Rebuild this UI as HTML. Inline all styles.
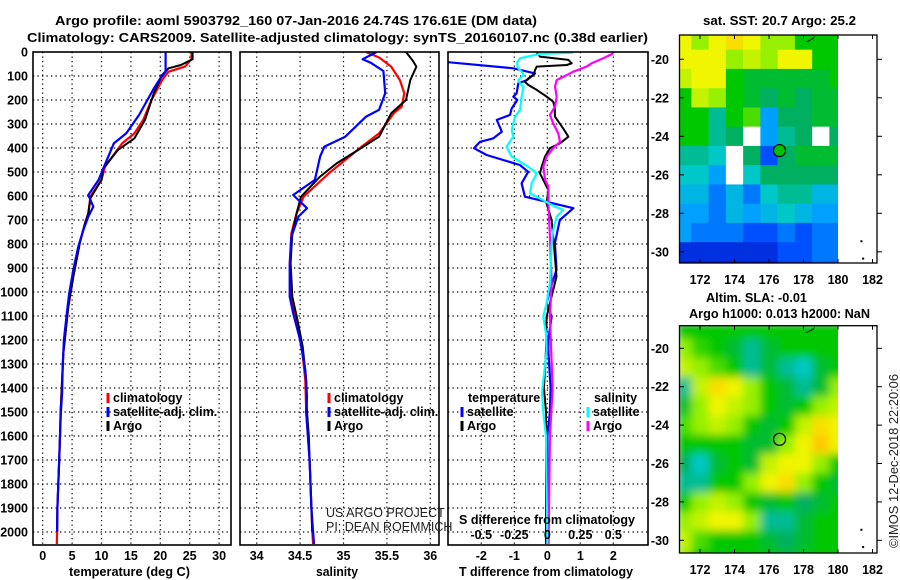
<!DOCTYPE html>
<html><head><meta charset="utf-8"><title>Argo profile</title>
<style>
html,body{margin:0;padding:0;background:#fff;}
svg{display:block;font-family:"Liberation Sans",sans-serif;}
.b{font-weight:bold;font-size:12.5px;fill:#000;}
</style></head>
<body>
<svg id="chart" width="900" height="580" viewBox="0 0 900 580" xmlns="http://www.w3.org/2000/svg">
<defs>
<clipPath id="c1"><rect x="33" y="52" width="198" height="493"/></clipPath>
<clipPath id="c2"><rect x="240" y="52" width="199" height="493"/></clipPath>
<clipPath id="c3"><rect x="448" y="52" width="200" height="493"/></clipPath>
<clipPath id="cm1"><rect x="679.5" y="35" width="158.5" height="228"/></clipPath>
<clipPath id="cm2"><rect x="679.5" y="325.7" width="158.5" height="227.3"/></clipPath>
<filter id="blur" x="-5%" y="-5%" width="110%" height="110%"><feGaussianBlur stdDeviation="4.5" edgeMode="duplicate"/></filter>
</defs>
<text class="b" x="55" y="25" font-size="14" textLength="482" lengthAdjust="spacingAndGlyphs">Argo profile: aoml 5903792_160 07-Jan-2016 24.74S 176.61E (DM data)</text>
<text class="b" x="27" y="42" font-size="14" textLength="621" lengthAdjust="spacingAndGlyphs">Climatology: CARS2009. Satellite-adjusted climatology: synTS_20160107.nc (0.38d earlier)</text>
<g id="grid"></g>
<g id="series"></g>
<g id="frames"></g>
<g id="labels"></g>
<g id="maps"></g>
<text x="326" y="517" font-size="12.5" fill="#222">US ARGO PROJECT</text>
<text x="326" y="531" font-size="12.5" fill="#222">PI: DEAN ROEMMICH</text>
<text transform="translate(898,548) rotate(-90)" font-size="13" fill="#222" textLength="174" lengthAdjust="spacingAndGlyphs">©IMOS 12-Dec-2018 22:20:06</text>
</svg>
<script>
// ---------- Temperature panel data ----------
const tClimDepth = [0,30,61,82,117,200,283,339,381,478,533,603,630,672,714,797,936,1061,1256,1422,1500,1600,1700,1800,1900,2000,2050];
const tClimVal = [25.3,25.3,24.2,21.4,20.3,18.5,17.1,15.6,13.5,10.6,10.0,8.1,8.0,7.75,7.2,6.3,5.2,4.35,3.5,3.2,3.05,2.95,2.8,2.65,2.5,2.45,2.4];
const tArgoDepth = [0,30,54,68,96,172,283,360,408,485,533,610,630,672,714,797,936,1061,1256,1422,1500,1600,1700,1800,1900,2000];
const tArgoVal = [25.5,25.5,23.5,21.4,20.3,18.9,17.4,15.6,12.8,10.3,10.0,8.1,8.0,7.75,7.2,6.3,5.2,4.35,3.5,3.2,3.05,2.95,2.8,2.65,2.5,2.45];
const tSatDepth = [0,82,110,152,200,262,339,381,485,533,596,644,686,742,811,908,1006,1089,1200,1311,1422,1500,1600,1700,1800,1900,2000];
const tSatVal = [20.9,20.9,20.0,18.9,17.8,16.4,14.2,12.1,10.3,9.5,7.75,8.6,7.75,6.9,6.05,5.2,4.5,4.1,3.6,3.4,3.3,3.1,2.95,2.8,2.65,2.5,2.45];
const tTicks = [0,5,10,15,20,25,30];
// ---------- Salinity panel data ----------
const sClimDepth = [0,23,61,117,172,228,255,339,394,450,506,603,672,756,880,1019,1117,1228,1367,1500,1600,1700,1800,1900,2000,2050];
const sClimVal = [35.26,35.41,35.55,35.65,35.70,35.67,35.58,35.41,35.21,35.02,34.83,34.54,34.46,34.40,34.38,34.40,34.46,34.52,34.56,34.57,34.59,34.61,34.62,34.63,34.64,34.65];
const sArgoDepth = [0,37,61,117,200,255,353,408,464,519,603,672,756,880,1019,1117,1228,1367,1500,1600,1700,1800,1900,2000];
const sArgoVal = [35.72,35.80,35.84,35.77,35.72,35.55,35.41,35.17,34.92,34.73,34.51,34.46,34.41,34.39,34.41,34.47,34.53,34.57,34.58,34.60,34.61,34.62,34.63,34.64];
const sSatDepth = [0,17,30,44,79,172,241,269,353,394,436,533,596,651,686,769,894,1019,1089,1200,1325,1436,1500,1600,1700,1800,1900,2000,2050];
const sSatVal = [35.38,35.29,35.22,35.31,35.46,35.48,35.41,35.26,35.02,34.78,34.73,34.67,34.42,34.58,34.48,34.40,34.38,34.38,34.42,34.50,34.56,34.58,34.57,34.59,34.61,34.62,34.63,34.65,34.66];
const sTicks = [34,34.5,35,35.5,36];
// ---------- Difference panel data ----------
const dTSatDepth = [40,68,89,117,131,172,186,200,235,262,283,332,360,374,401,429,471,499,547,603,624,651,700,797,908,992,1047,1103,1200,1242,1400,1500,1600,2050];
const dTSatVal = [-3.2,-1.03,-0.37,-0.62,-0.88,-0.93,-1.03,-0.91,-1.08,-1.13,-1.53,-1.38,-1.64,-2.04,-2.22,-1.84,-0.83,-0.58,-0.78,-0.68,-0.02,0.79,0.38,0.23,0.28,0.08,-0.02,0.13,0.03,0.03,0.1,0.08,0.0,0.0];
const dTArgoDepth = [3,19,33,47,54,61,75,96,110,124,137,158,186,207,235,269,318,353,381,401,436,478,506,533,575,631,700,769,853,936,992,1047,1103,1242,1400,1500,2050];
const dTArgoVal = [-0.32,-0.22,0.64,0.74,0.59,-0.32,-0.37,-0.42,-0.58,-0.68,-0.58,-0.32,-0.02,0.18,0.23,0.23,0.48,0.64,0.38,0.08,-0.07,-0.17,-0.22,-0.12,0.03,-0.02,0.13,0.18,0.23,0.28,0.18,0.08,-0.02,-0.04,-0.1,-0.04,-0.04];
const dSSatDepth = [3,8,26,47,68,82,96,117,131,144,186,242,269,325,353,394,436,478,506,547,589,603,644,658,686,742,797,964,1047,1103,1172,1242,1420,1500,1600,2050];
const dSSatVal = [0.197,-0.055,-0.207,-0.232,-0.22,-0.194,-0.18,-0.22,-0.207,-0.18,-0.194,-0.207,-0.245,-0.27,-0.258,-0.308,-0.27,-0.144,-0.08,-0.118,-0.131,-0.08,0.058,0.121,0.071,0.045,0.033,0.02,-0.005,-0.03,-0.01,-0.005,-0.04,-0.03,-0.01,0.0];
const dSArgoDepth = [6,26,47,61,82,117,144,186,228,262,297,339,374,401,436,478,533,561,631,769,964,1103,1400,1500,1600,2050];
const dSArgoVal = [0.5,0.424,0.336,0.298,0.197,0.071,0.058,0.071,0.058,0.02,0.045,0.083,0.096,0.045,-0.005,-0.03,-0.017,0.008,0.008,0.02,0.033,0.02,0.04,0.03,0.02,0.01];
const dTTicks = [-2,-1,0,1,2];
const dSTicks = [-0.5,-0.25,0,0.25,0.5];
const dSTickLabels = ["-0.5","-0.25","0","0.25","0.5"];
const depthTicks = [0,100,200,300,400,500,600,700,800,900,1000,1100,1200,1300,1400,1500,1600,1700,1800,1900,2000];
// ---------- Map data ----------
const mapLons = [171,172,173,174,175,176,177,178,179,180];
const mapLats = [-19,-20,-21,-22,-23,-24,-25,-26,-27,-28,-29,-30,-31];
const sstLevels = [
 [8,7,8,8.5,8,7,7,6,6,6],
 [8,8,8,7,7.5,7,8,8,6,6],
 [7.5,8,8,6,5.5,5.5,5.5,5.5,5.5,6],
 [6,7.5,7,6,5.5,5,5.5,5,5.5,5.5],
 [6,6,4.5,6,6.5,3,5,5,5.5,5.5],
 [6,6,4.5,5,null,3,4.5,5,null,5],
 [4.5,4.5,4,null,5,2,5,5.5,5.5,5.5],
 [4,4,3,null,4,5,5,5,5,5],
 [3.5,3.5,2.5,3.5,2.5,4,4.5,4.5,3.5,3.5],
 [3,3,2.5,3.5,3,3.5,4,3.5,3,3],
 [3,2.5,2.5,2.5,2,2,2.5,2,2.5,2.5],
 [1.5,1.5,1.5,1.5,1.5,1.5,2,2,2.5,2.5],
 [1,1,1,1,1,1,1.5,1.5,2,2]
];
const slaLevels = [
 [6,6,6,6,6,6,6,6,6,6],
 [7,6.3,6,5.5,4.5,5.5,6,6,6,6],
 [7.5,7,6.5,6,4.5,5.5,4.5,4,5.5,6],
 [4.5,7.5,8.5,8,7,6,5.5,4.5,5.5,7],
 [5.5,7,8,7.5,7,6,5.5,6,7,7.5],
 [6.5,7,7.5,7,6,5.5,6,7.5,8.5,8],
 [6,6,6,6,5.5,5.5,7,8,9,8],
 [5,4,5.5,6,5.5,7.5,8,8,7,6],
 [4.5,4.5,6,6,7,8,8.5,7,6,5.5],
 [6,7,7.5,7,6,5.5,6,5,5.5,6],
 [7,7.5,8,8,7,4.5,4.5,5.5,6,6],
 [7.5,6.5,6,6,6,5.5,5,5.5,6,6],
 [7,6,6,6,6,6,5.5,6,6,6]
];

const NS = "http://www.w3.org/2000/svg";
function mk(tag, parent, attrs){const e=document.createElementNS(NS,tag);for(const k in attrs)e.setAttribute(k,attrs[k]);parent.appendChild(e);return e;}
const G = document.getElementById('grid'), S = document.getElementById('series'), F = document.getElementById('frames'), L = document.getElementById('labels'), M = document.getElementById('maps');

function yD(d){return 52 + d*0.24;}
function xT(v){return 42.7 + 5.88*v;}
function xS(v){return 256.7 + 86.8*(v-34);}
function xDT(v){return 547.3 + 33*v;}
function xDS(v){return 547.3 + 132*v;}

const panels = [
 {x0:33,x1:231,name:'temperature-panel',ticks:tTicks,fx:xT,labels:tTicks.map(String)},
 {x0:240,x1:439,name:'salinity-panel',ticks:sTicks,fx:xS,labels:sTicks.map(String)},
 {x0:448,x1:648,name:'difference-panel',ticks:dTTicks,fx:xDT,labels:dTTicks.map(String)}
];
panels.forEach(p=>{
  depthTicks.forEach(d=>{
    if(d===0) return;
    const l=mk('line',G,{x1:p.x0,x2:p.x1,y1:yD(d),y2:yD(d),stroke:'#000','stroke-width':1.2,'stroke-dasharray':'1.3,3.2'});
    
    
  });
  p.ticks.forEach((v,i)=>{
    const x=p.fx(v);
    const l=mk('line',G,{x1:x,x2:x,y1:52,y2:545,stroke:'#000','stroke-width':1.2,'stroke-dasharray':'1.3,3.2'});
    
    
    const t=mk('text',L,{x:x,y:560,'text-anchor':'middle',class:'b'});
    t.textContent=p.labels[i];
    
    
  });
  const r=mk('rect',F,{x:p.x0,y:52,width:p.x1-p.x0,height:493,fill:'none',stroke:'#000','stroke-width':1.6});
  
  
});
dSTicks.forEach((v,i)=>{
  const t=mk('text',L,{x:xDS(v),y:539,'text-anchor':'middle',class:'b'});
  t.textContent=dSTickLabels[i];
  
  
});
depthTicks.forEach(d=>{
  const t=mk('text',L,{x:28,y:yD(d)+4.5,'text-anchor':'end',class:'b'});
  t.textContent=String(d);
  
  
});
function axisTitle(txt,x,y,w,name){
  const t=mk('text',L,{x:x,y:y,class:'b',textLength:w,lengthAdjust:'spacingAndGlyphs'});
  t.textContent=txt;
  
  
}
axisTitle('temperature (deg C)',69,576,121,'temperature-axis-title');
axisTitle('salinity',316,576,42,'salinity-axis-title');
axisTitle('T difference from climatology',459,576,174,'t-difference-axis-title');
axisTitle('S difference from climatology',459,524,176,'s-difference-axis-title');

function line(depths, vals, fx, color, w, clip, name){
  const pts = depths.map((d,i)=>fx(vals[i]).toFixed(1)+','+yD(d).toFixed(1)).join(' ');
  const p=mk('polyline',S,{points:pts,fill:'none',stroke:color,'stroke-width':w,'stroke-linejoin':'round','clip-path':'url(#'+clip+')'});
  
  
}
line(tClimDepth,tClimVal,xT,'#ff0000',2.2,'c1','temperature-climatology-line');
line(tArgoDepth,tArgoVal,xT,'#000000',2,'c1','temperature-argo-line');
line(tSatDepth,tSatVal,xT,'#0000ff',2.2,'c1','temperature-satellite-line');
line(sClimDepth,sClimVal,xS,'#ff0000',2.2,'c2','salinity-climatology-line');
line(sArgoDepth,sArgoVal,xS,'#000000',2,'c2','salinity-argo-line');
line(sSatDepth,sSatVal,xS,'#0000ff',2.2,'c2','salinity-satellite-line');
line(dTSatDepth,dTSatVal,xDT,'#0000ff',2.2,'c3','t-diff-satellite-line');
line(dTArgoDepth,dTArgoVal,xDT,'#000000',2,'c3','t-diff-argo-line');
line(dSArgoDepth,dSArgoVal,xDS,'#ff00ff',2.2,'c3','s-diff-argo-line');
line(dSSatDepth,dSSatVal,xDS,'#00ffff',2.2,'c3','s-diff-satellite-line');

function legend(x,y,color,txt,name){
  const m=mk('line',L,{x1:x,x2:x,y1:y-9,y2:y+1,stroke:color,'stroke-width':3});
  
  
  if(txt){
    const t=mk('text',L,{x:x+5,y:y,class:'b'});
    t.textContent=txt;
    
    
  }
}
legend(108,402,'#ff0000','climatology','legend-climatology');
legend(108,416,'#0000ff','satellite-adj. clim.','legend-satellite-adj');
legend(108,430,'#000000','Argo','legend-argo');
legend(329,402,'#ff0000','climatology','legend-climatology-2');
legend(329,416,'#0000ff','satellite-adj. clim.','legend-satellite-adj-2');
legend(329,430,'#000000','Argo','legend-argo-2');
(function(){
  const t=mk('text',L,{x:468,y:402,class:'b'});t.textContent='temperature';
  
  
  const t2=mk('text',L,{x:594,y:402,class:'b'});t2.textContent='salinity';
  
  
})();
legend(462,416,'#0000ff','satellite','legend-t-satellite');
legend(462,430,'#000000','Argo','legend-t-argo');
legend(588,416,'#00ffff','satellite','legend-s-satellite');
legend(588,430,'#ff00ff','Argo','legend-s-argo');

// ---------- Maps ----------
const cstops=[[0,0,0,128],[1,0,16,192],[2,0,80,255],[3,0,160,255],[4,0,200,200],[5,0,176,96],[6,0,200,0],[7,150,240,0],[8,240,245,0],[9,255,200,0],[10,255,128,0]];
function cmap(v){
  v=Math.max(0,Math.min(10,v));const i=Math.min(9,Math.floor(v));const f=v-i;
  const a=cstops[i],b=cstops[i+1];
  return 'rgb('+[1,2,3].map(k=>Math.round(a[k]+(b[k]-a[k])*f)).join(',')+')';
}
function lonX(lon){return 838+(lon-180)*17.25;}
function drawMap(levels, latY, clipId, top, bottom, blur, name, circleFill){
  const g=mk('g',M,{'clip-path':'url(#'+clipId+')'});
  
  
  const inner=mk('g',g,blur?{filter:'url(#blur)'}:{});
  mk('rect',inner,{x:670,y:top-10,width:175,height:bottom-top+20,fill:'#fff'});
  levels.forEach((row,i)=>{
    row.forEach((v,j)=>{
      const x=lonX(mapLons[j]-0.5), y=latY(mapLats[i]+0.5);
      const r=mk('rect',inner,{x:x.toFixed(2),y:y.toFixed(2),width:17.6,height:19.7,fill:v===null?'#ffffff':cmap(v)});
      
      
    });
  });
  const frame=mk('rect',M,{x:679.5,y:top,width:197.5,height:bottom-top,fill:'none',stroke:'#000','stroke-width':1.3});
  
  
  [172,174,176,178,180,182].forEach(lon=>{
    const x=lonX(lon);
    mk('line',M,{x1:x,x2:x,y1:top,y2:top+4,stroke:'#000'});
    mk('line',M,{x1:x,x2:x,y1:bottom,y2:bottom-4,stroke:'#000'});
    const t=mk('text',M,{x:x,y:bottom+21,'text-anchor':'middle',class:'b'});t.textContent=String(lon);
    
    
  });
  [-20,-22,-24,-26,-28,-30].forEach(lat=>{
    const y=latY(lat);
    mk('line',M,{x1:679.5,x2:684,y1:y,y2:y,stroke:'#000'});
    mk('line',M,{x1:877,x2:882,y1:y,y2:y,stroke:'#000'});
    const t=mk('text',M,{x:669,y:y+4.5,'text-anchor':'end',class:'b'});t.textContent=String(lat);
    
    
  });
  const cy=latY(-24.74), cx=lonX(176.61);
  const c=mk('circle',M,{cx:cx,cy:cy,r:6,fill:circleFill,stroke:'#000','stroke-width':1.2});
  
  
  mk('path',M,{d:'M'+(lonX(178.1))+' '+(top+7)+' l6 -3 l4 -3 l-2 3 l-6 3 z',fill:'#000'});
  mk('rect',M,{x:lonX(181.3),y:latY(-29.4),width:2,height:2,fill:'#000'});
  mk('rect',M,{x:lonX(181.4),y:latY(-30.3),width:2,height:2,fill:'#000'});
}
drawMap(sstLevels,lat=>59.3+(-20-lat)*19.25,'cm1',35,263,false,'sst-map','#00c000');
drawMap(slaLevels,lat=>348.3+(-20-lat)*19.2,'cm2',325.7,553,true,'sla-map','none');
function mtext(txt,x,y,w,name){
  const t=mk('text',M,{x:x,y:y,class:'b',textLength:w,lengthAdjust:'spacingAndGlyphs'});t.textContent=txt;
  
  
}
mtext('sat. SST: 20.7 Argo: 25.2',703,25,153,'sst-map-title');
mtext('Altim. SLA: -0.01',706,302,101,'sla-map-title');
mtext('Argo h1000: 0.013 h2000: NaN',689,318,181,'sla-map-subtitle');
</script>
</body></html>
